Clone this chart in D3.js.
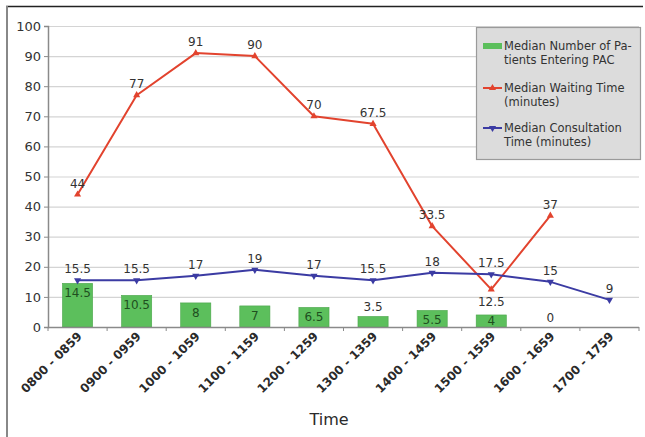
<!DOCTYPE html>
<html>
<head>
<meta charset="utf-8">
<script src="https://cdn.jsdelivr.net/npm/d3@7"></script>
<style>
  html, body { margin: 0; padding: 0; background: #fff; }
  svg { display: block; font-family: "DejaVu Sans", sans-serif; }
</style>
</head>
<body>
<svg id="chart" width="645" height="437"></svg>
<script>
// Hourly clinic statistics
const timeSlots = ["0800 - 0859", "0900 - 0959", "1000 - 1059", "1100 - 1159", "1200 - 1259",
                   "1300 - 1359", "1400 - 1459", "1500 - 1559", "1600 - 1659", "1700 - 1759"];
const patientsEntering = [14.5, 10.5, 8, 7, 6.5, 3.5, 5.5, 4, 0, null];
const waitingTime = [44, 77, 91, 90, 70, 67.5, 33.5, 12.5, 37, null];
const consultationTime = [15.5, 15.5, 17, 19, 17, 15.5, 18, 17.5, 15, 9];
const yTicks = [0, 10, 20, 30, 40, 50, 60, 70, 80, 90, 100];

const seriesNames = {
  bars: ["Median Number of Pa-", "tients Entering PAC"],
  wait: ["Median Waiting Time", "(minutes)"],
  consult: ["Median Consultation", "Time (minutes)"]
};

const colors = {
  bar: "#5cbf5c",
  barStroke: "#4aa54a",
  wait: "#e2432e",
  consult: "#3b3ba3",
  text: "#333",
  barText: "#1f4f1f",
  grid: "#d4d4d4",
  axis: "#8a8a8a"
};

const svg = d3.select("#chart");

// Outer frame: dark top rule and grey left rule
svg.append("line").attr("x1", 6).attr("x2", 643).attr("y1", 6.5).attr("y2", 6.5)
  .attr("stroke", "#222").attr("stroke-width", 1.5);
svg.append("line").attr("x1", 7).attr("x2", 7).attr("y1", 6).attr("y2", 437)
  .attr("stroke", "#888").attr("stroke-width", 2);

const plot = { left: 48, right: 639, top: 26, bottom: 327 };

const x = d3.scaleBand().domain(timeSlots).range([plot.left, plot.right]).paddingInner(0).paddingOuter(0);
const y = d3.scaleLinear().domain([0, 100]).range([plot.bottom, plot.top]);
const cx = d => x(d) + x.bandwidth() / 2;

// Horizontal gridlines
svg.append("g").selectAll("line").data(yTicks.filter(t => t > 0)).join("line")
  .attr("x1", plot.left).attr("x2", plot.right)
  .attr("y1", d => y(d) + 0.5).attr("y2", d => y(d) + 0.5)
  .attr("stroke", colors.grid).attr("stroke-width", 1.2);

// Y axis
const yAxis = svg.append("g").attr("transform", `translate(${plot.left},0)`)
  .call(d3.axisLeft(y).tickValues(yTicks).tickSize(4).tickPadding(3));
yAxis.select(".domain").attr("stroke", colors.axis).attr("stroke-width", 1.5);
yAxis.selectAll(".tick line").attr("stroke", colors.axis);
yAxis.selectAll(".tick text").attr("fill", colors.text).style("font-size", "13px")
  .style("font-family", "DejaVu Sans, sans-serif");

// Bars: patients entering
const barW = x.bandwidth() * 0.51;
const barData = timeSlots.map((t, i) => ({ t, v: patientsEntering[i] })).filter(d => d.v !== null);
svg.append("g").selectAll("rect").data(barData.filter(d => d.v > 0)).join("rect")
  .attr("x", d => cx(d.t) - barW / 2)
  .attr("y", d => y(d.v))
  .attr("width", barW)
  .attr("height", d => y(0) - y(d.v))
  .attr("fill", colors.bar)
  .attr("stroke", colors.barStroke).attr("stroke-width", 0.6);

// X axis with ticks on band boundaries
const xAxisG = svg.append("g").attr("transform", `translate(0,${plot.bottom})`);
xAxisG.append("line").attr("x1", plot.left).attr("x2", plot.right).attr("y1", 0.5).attr("y2", 0.5)
  .attr("stroke", colors.axis).attr("stroke-width", 1.5);
xAxisG.selectAll("line.tk").data(timeSlots.concat(["end"])).join("line").attr("class", "tk")
  .attr("x1", (d, i) => plot.left + i * x.bandwidth())
  .attr("x2", (d, i) => plot.left + i * x.bandwidth())
  .attr("y1", 0).attr("y2", 4)
  .attr("stroke", colors.axis);
xAxisG.selectAll("text").data(timeSlots).join("text")
  .attr("transform", d => `translate(${cx(d) + 5},${10}) rotate(-45)`)
  .attr("text-anchor", "end")
  .attr("fill", "#2a2a2a")
  .style("font-size", "12px").style("font-weight", "bold")
  .text(d => d);

// Axis title
svg.append("text").attr("x", 329).attr("y", 425).attr("text-anchor", "middle")
  .attr("fill", "#2a2a2a").style("font-size", "16px").text("Time");

// Lines
function drawSeries(values, color, rotate) {
  const pts = timeSlots.map((t, i) => ({ t, v: values[i] })).filter(d => d.v !== null);
  const line = d3.line().x(d => cx(d.t)).y(d => y(d.v));
  svg.append("path").datum(pts).attr("d", line)
    .attr("fill", "none").attr("stroke", color).attr("stroke-width", 2).attr("stroke-linejoin", "round");
  svg.append("g").selectAll("path").data(pts).join("path")
    .attr("d", d3.symbol().type(d3.symbolTriangle).size(22))
    .attr("transform", d => `translate(${cx(d.t)},${y(d.v)}) rotate(${rotate})`)
    .attr("fill", color);
  return pts;
}
const waitPts = drawSeries(waitingTime, colors.wait, 0);
const consPts = drawSeries(consultationTime, colors.consult, 180);

// Value labels
const fmt = v => String(v);
const labelStyle = sel => sel.attr("text-anchor", "middle").style("font-size", "12px").attr("fill", colors.text);

svg.append("g").selectAll("text").data(waitPts).join("text").call(labelStyle)
  .attr("x", d => cx(d.t))
  .attr("y", d => d.v === 12.5 ? y(d.v) + 17 : y(d.v) - 7)
  .text(d => fmt(d.v));

svg.append("g").selectAll("text").data(consPts).join("text").call(labelStyle)
  .attr("x", d => cx(d.t))
  .attr("y", d => y(d.v) - 7)
  .text(d => fmt(d.v));

svg.append("g").selectAll("text").data(barData).join("text").call(labelStyle)
  .attr("x", d => cx(d.t))
  .attr("y", d => {
    const h = y(0) - y(d.v);
    return h < 11 ? y(d.v) - 5 : Math.min(y(d.v) + 14, y(0) - 2);
  })
  .attr("fill", d => (y(0) - y(d.v)) < 11 ? colors.text : colors.barText)
  .text(d => fmt(d.v));

// Legend
const lg = svg.append("g");
lg.append("rect").attr("x", 476.5).attr("y", 27.5).attr("width", 164).attr("height", 132)
  .attr("fill", "#dcdcdc").attr("stroke", "#9a9a9a").attr("stroke-width", 1.2);
const legendItems = [
  { lines: seriesNames.bars, y: 46, kind: "bar", color: colors.bar },
  { lines: seriesNames.wait, y: 88, kind: "line", color: colors.wait, rot: 0 },
  { lines: seriesNames.consult, y: 128, kind: "line", color: colors.consult, rot: 180 }
];
legendItems.forEach(it => {
  if (it.kind === "bar") {
    lg.append("rect").attr("x", 483).attr("y", it.y - 3).attr("width", 19).attr("height", 6).attr("fill", it.color);
  } else {
    lg.append("line").attr("x1", 483).attr("x2", 502).attr("y1", it.y).attr("y2", it.y)
      .attr("stroke", it.color).attr("stroke-width", 2);
    lg.append("path").attr("d", d3.symbol().type(d3.symbolTriangle).size(22))
      .attr("transform", `translate(492.5,${it.y}) rotate(${it.rot})`).attr("fill", it.color);
  }
  it.lines.forEach((s, k) => {
    lg.append("text").attr("x", 504).attr("y", it.y + 4 + k * 13.5)
      .style("font-size", "11.5px").attr("fill", colors.text).text(s);
  });
});
</script>
</body>
</html>
